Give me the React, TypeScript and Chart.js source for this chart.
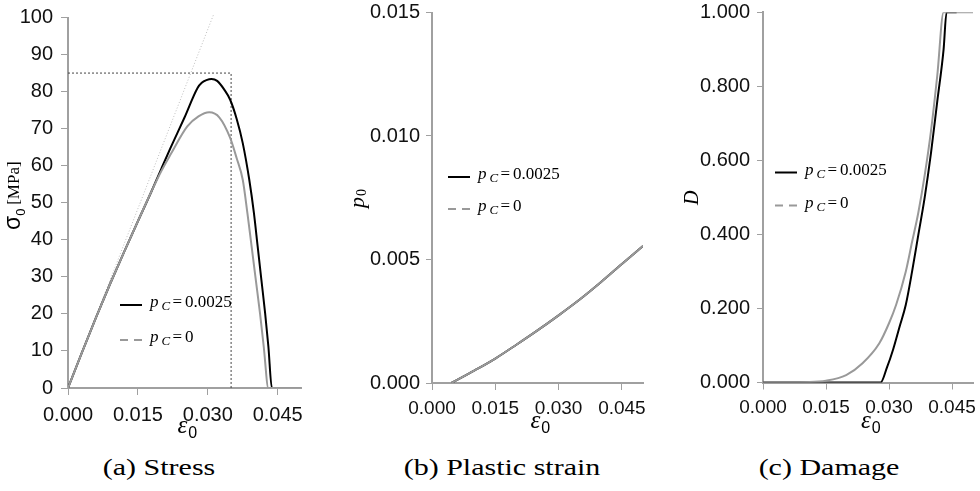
import React, { useEffect, useRef } from 'react';
import { Chart, registerables } from 'chart.js';

Chart.register(...registerables);

// ---------- data ----------
const strainTicks = [0, 0.015, 0.03, 0.045];
const stressTicks = [0, 10, 20, 30, 40, 50, 60, 70, 80, 90, 100];
const plasticTicks = [0, 0.005, 0.01, 0.015];
const damageTicks = [0, 0.2, 0.4, 0.6, 0.8, 1.0];

const legendValues = ['0.0025', '0'];
const captions = ['(a) Stress', '(b) Plastic strain', '(c) Damage'];

// (a) stress, p_C = 0.0025
const stressStrainPc = [0, 0.003, 0.006, 0.009, 0.012, 0.015, 0.018, 0.02, 0.022, 0.025, 0.0278, 0.0287, 0.0297, 0.0308, 0.032, 0.0335, 0.0348, 0.0362, 0.0375, 0.0389, 0.0399, 0.0407, 0.0415, 0.0423, 0.043, 0.04375, 0.05];
const stressPc = [0, 9.6, 19.0, 28.0, 36.6, 45.0, 53.3, 59.1, 64.8, 73.0, 81.0, 82.4, 83.1, 83.4, 82.9, 80.6, 77.8, 72.6, 66.1, 56.2, 47.2, 38.2, 29.2, 20.2, 11.2, 0, 0];
// (a) stress, p_C = 0
const stressStrain0 = [0, 0.003, 0.006, 0.009, 0.012, 0.015, 0.018, 0.02, 0.022, 0.0256, 0.028, 0.0303, 0.0325, 0.0348, 0.0362, 0.0375, 0.0385, 0.0394, 0.0403, 0.0412, 0.042, 0.043, 0.05];
const stress0 = [0, 9.6, 19.0, 28.0, 36.6, 45.0, 53.3, 58.5, 63.0, 70.6, 73.3, 74.4, 73.0, 67.5, 62.0, 56.2, 47.2, 38.2, 29.2, 20.2, 11.2, 0, 0];
// (a) elastic reference line and limit box
const elasticStrain = [0, 0.0313];
const elasticStress = [0, 101];
const limitStrain = [0, 0.035, 0.035];
const limitStress = [85, 85, 0];

// (b) plastic strain (both cases coincide)
const plasticStrain = [0.0046, 0.01, 0.015, 0.02, 0.025, 0.03, 0.035, 0.04, 0.045, 0.05];
const plasticPc = [0, 0.0005, 0.00099, 0.00155, 0.00213, 0.00274, 0.00338, 0.00408, 0.00482, 0.00555];
const plastic0 = [0, 0.0005, 0.00099, 0.00155, 0.00213, 0.00274, 0.00338, 0.00408, 0.00482, 0.00555];

// (c) damage
const damageStrainPc = [0, 0.028, 0.0295, 0.031, 0.0325, 0.034, 0.0355, 0.037, 0.0385, 0.04, 0.0415, 0.043, 0.0437, 0.0461];
const damagePc = [0, 0, 0.04, 0.09, 0.15, 0.21, 0.3, 0.4, 0.5, 0.62, 0.76, 0.9, 1.0, 1.0];
const damageStrain0 = [0, 0.005, 0.01, 0.015, 0.0198, 0.0237, 0.0277, 0.03, 0.0317, 0.034, 0.0355, 0.037, 0.0385, 0.04, 0.0415, 0.043, 0.05];
const damage0 = [0, 0, 0.001, 0.005, 0.02, 0.052, 0.106, 0.16, 0.21, 0.3, 0.38, 0.46, 0.56, 0.68, 0.83, 1.0, 1.0];

// ---------- helpers ----------
const GRAY = '#999999';
const AXIS = '#a0a0a0';

const zip = (xs: number[], ys: number[]) => xs.map((x, i) => ({ x, y: ys[i] }));

const curve = (xs: number[], ys: number[], color: string) => ({
  data: zip(xs, ys),
  borderColor: color,
  borderWidth: 2,
  showLine: true,
  pointRadius: 0,
  cubicInterpolationMode: 'monotone',
});

const xScale = (fontSize: number, height: number, padding: number) => ({
  type: 'linear',
  min: 0,
  max: 0.05,
  afterBuildTicks: (s: any) => {
    s.ticks = strainTicks.map((v) => ({ value: v }));
  },
  afterFit: (s: any) => {
    s.height = height;
    s.paddingLeft = 0;
    s.paddingRight = 0;
  },
  grid: { display: true, drawOnChartArea: false, drawTicks: true, tickLength: 7, color: AXIS, lineWidth: 1 },
  border: { display: true, color: AXIS, width: 2 },
  ticks: {
    color: '#111',
    font: { family: '"Liberation Sans", Arial, sans-serif', size: fontSize },
    padding,
    maxRotation: 0,
    autoSkip: false,
    callback: (v: any) => Number(v).toFixed(3),
  },
});

const yScale = (min: number, max: number, ticks: number[], digits: number, width: number, fontSize: number, tickLen: number, padding: number) => ({
  type: 'linear',
  min,
  max,
  afterBuildTicks: (s: any) => {
    s.ticks = ticks.map((v) => ({ value: v }));
  },
  afterFit: (s: any) => {
    s.width = width;
    s.paddingTop = 0;
    s.paddingBottom = 0;
  },
  grid: { display: true, drawOnChartArea: false, drawTicks: true, tickLength: tickLen, color: AXIS, lineWidth: 1 },
  border: { display: true, color: AXIS, width: 2 },
  ticks: {
    color: '#111',
    font: { family: '"Liberation Sans", Arial, sans-serif', size: fontSize },
    padding,
    autoSkip: false,
    callback: (v: any) => Number(v).toFixed(digits),
  },
});

function drawLegend(ctx: CanvasRenderingContext2D, x: number, y: number, gap: number) {
  const rows = [
    { color: '#000', dash: [] as number[] },
    { color: GRAY, dash: [8, 6] },
  ];
  rows.forEach((r, i) => {
    const ly = y + i * gap;
    ctx.strokeStyle = r.color;
    ctx.lineWidth = 2;
    ctx.setLineDash(r.dash);
    ctx.beginPath();
    ctx.moveTo(x, ly);
    ctx.lineTo(x + 22, ly);
    ctx.stroke();
    ctx.setLineDash([]);
    ctx.fillStyle = '#000';
    ctx.textAlign = 'left';
    ctx.textBaseline = 'alphabetic';
    const bx = x + 30;
    const by = ly + 2;
    ctx.font = 'italic 17px "Liberation Serif"';
    ctx.fillText('p', bx, by);
    ctx.font = 'italic 13px "Liberation Serif"';
    ctx.fillText('C', bx + 11.5, by + 3);
    ctx.font = '17px "Liberation Serif"';
    ctx.fillText('=', bx + 22.5, by);
    ctx.fillText(legendValues[i], bx + 35, by);
  });
}

function drawXTitle(ctx: CanvasRenderingContext2D, chart: any) {
  const a = chart.chartArea;
  const cx = (a.left + a.right) / 2 - 7;
  const by = a.bottom + 45;
  ctx.fillStyle = '#000';
  ctx.textAlign = 'left';
  ctx.textBaseline = 'alphabetic';
  ctx.font = 'italic 25px "Liberation Serif"';
  ctx.fillText('ε', cx, by);
  const w = ctx.measureText('ε').width;
  ctx.font = '16px "Liberation Sans"';
  ctx.fillText('0', cx + w + 1, by + 5);
}

const overlay = (draw: (ctx: CanvasRenderingContext2D, chart: any) => void) => ({
  id: 'overlayText',
  afterDraw(chart: any) {
    const ctx = chart.ctx;
    ctx.save();
    draw(ctx, chart);
    ctx.restore();
  },
});

const baseOptions = (padding: any, scales: any) => ({
  animation: false,
  responsive: false,
  events: [],
  layout: { padding },
  plugins: { legend: { display: false }, tooltip: { enabled: false } },
  scales,
});

export default function App() {
  const refA = useRef<HTMLCanvasElement>(null);
  const refB = useRef<HTMLCanvasElement>(null);
  const refC = useRef<HTMLCanvasElement>(null);

  useEffect(() => {
    const charts: Chart[] = [];

    charts.push(
      new Chart(refA.current as HTMLCanvasElement, {
        type: 'scatter',
        data: {
          datasets: [
            curve(stressStrain0, stress0, GRAY),
            curve(stressStrainPc, stressPc, '#000'),
            { data: zip(limitStrain, limitStress), borderColor: '#444', borderWidth: 1, borderDash: [2, 2], showLine: true, pointRadius: 0 },
            { data: zip(elasticStrain, elasticStress), borderColor: '#bdbdbd', borderWidth: 1, borderDash: [1, 2], showLine: true, pointRadius: 0, clip: 4 },
          ] as any,
        },
        options: baseOptions({ left: 0, right: 19, top: 17.5, bottom: 0 }, {
          x: xScale(20, 57, 8),
          y: yScale(0, 100, stressTicks, 0, 68, 20, 7, 8),
        }) as any,
        plugins: [
          overlay((ctx, chart) => {
            drawLegend(ctx, 120, 305, 35);
            drawXTitle(ctx, chart);
            ctx.translate(20, 230);
            ctx.rotate(-Math.PI / 2);
            ctx.fillStyle = '#000';
            ctx.textAlign = 'left';
            ctx.textBaseline = 'alphabetic';
            ctx.font = '23px "Liberation Sans"';
            ctx.fillText('σ', 0, 0);
            const w = ctx.measureText('σ').width;
            ctx.font = '13px "Liberation Sans"';
            ctx.fillText('0', w, 5);
            ctx.font = '17px "Liberation Serif"';
            ctx.fillText('[MPa]', w + 11, -1);
          }),
        ],
      })
    );

    charts.push(
      new Chart(refB.current as HTMLCanvasElement, {
        type: 'scatter',
        data: {
          datasets: [curve(plasticStrain, plastic0, GRAY), curve(plasticStrain, plasticPc, '#000')] as any,
        },
        options: baseOptions({ left: 0, right: 7, top: 12.5, bottom: 0 }, {
          x: xScale(19, 62, 7),
          y: yScale(0, 0.015, plasticTicks, 3, 112, 20, 6, 6),
        }) as any,
        plugins: [
          overlay((ctx, chart) => {
            drawLegend(ctx, 128, 177, 32);
            drawXTitle(ctx, chart);
            ctx.translate(44, 208);
            ctx.rotate(-Math.PI / 2);
            ctx.fillStyle = '#000';
            ctx.textAlign = 'left';
            ctx.textBaseline = 'alphabetic';
            ctx.font = 'italic 22px "Liberation Serif"';
            ctx.fillText('p', 0, 0);
            const w = ctx.measureText('p').width;
            ctx.font = '14px "Liberation Serif"';
            ctx.fillText('0', w + 1, 2);
          }),
        ],
      })
    );

    charts.push(
      new Chart(refC.current as HTMLCanvasElement, {
        type: 'scatter',
        data: {
          datasets: [curve(damageStrain0, damage0, GRAY), curve(damageStrainPc, damagePc, '#000')] as any,
        },
        options: baseOptions({ left: 0, right: 7, top: 12.3, bottom: 0 }, {
          x: xScale(19, 62.5, 7),
          y: yScale(0, 1, damageTicks, 3, 113, 20, 6, 7),
        }) as any,
        plugins: [
          overlay((ctx, chart) => {
            drawLegend(ctx, 125, 172.5, 33);
            drawXTitle(ctx, chart);
            ctx.translate(48, 205);
            ctx.rotate(-Math.PI / 2);
            ctx.fillStyle = '#000';
            ctx.textAlign = 'left';
            ctx.textBaseline = 'alphabetic';
            ctx.font = 'italic 20px "Liberation Serif"';
            ctx.fillText('D', 0, 0);
          }),
        ],
      })
    );

    return () => charts.forEach((c) => c.destroy());
  }, []);

  const canvasStyle = (left: number, width: number): React.CSSProperties => ({
    position: 'absolute',
    left,
    top: 0,
    width,
    height: 445,
  });

  const captionX = [159, 502, 829];

  return (
    <div style={{ position: 'absolute', left: 0, top: 0, width: 980, height: 491, background: '#fff', overflow: 'hidden' }}>
      <canvas ref={refA} width={320} height={445} style={canvasStyle(0, 320)} />
      <canvas ref={refB} width={330} height={445} style={canvasStyle(320, 330)} />
      <canvas ref={refC} width={330} height={445} style={canvasStyle(650, 330)} />
      {captions.map((c, i) => (
        <span
          key={c}
          style={{
            position: 'absolute',
            left: captionX[i],
            top: 467,
            transform: 'translate(-50%, -50%) scaleX(1.25)',
            fontFamily: '"Liberation Serif", serif',
            fontSize: 24,
            lineHeight: 1,
            whiteSpace: 'nowrap',
            color: '#000',
          }}
        >
          {c}
        </span>
      ))}
    </div>
  );
}
